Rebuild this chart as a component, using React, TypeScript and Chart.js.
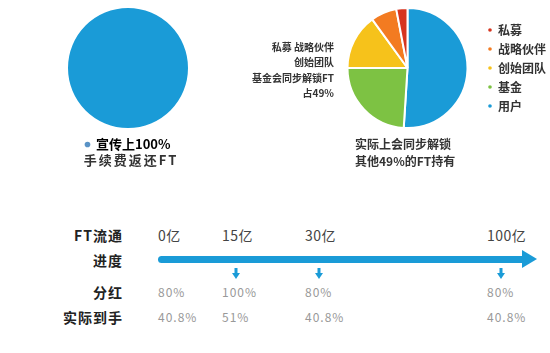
import React, { useEffect, useRef } from "react";
import { Chart, registerables } from "chart.js";
Chart.register(...registerables);

// ---- data ----
const leftLabels = ["宣传上100%"];
const leftValues = [100];
const leftCaption = "手续费返还FT";

const rightLabels = ["用户", "基金", "创始团队", "战略伙伴", "私募"];
const rightValues = [51, 24, 15, 7, 3];
const rightNote = ["私募 战略伙伴", "创始团队", "基金会同步解锁FT", "占49%"];
const rightCaption = ["实际上会同步解锁", "其他49%的FT持有"];

const rowLabels = ["FT流通", "进度", "分红", "实际到手"];
const milestones = ["0亿", "15亿", "30亿", "100亿"];
const dividends = ["80%", "100%", "80%", "80%"];
const received = ["40.8%", "51%", "40.8%", "40.8%"];
const showMarker = [false, true, true, true];

// ---- styles ----
const FONT = "'Noto Sans CJK SC', 'Noto Sans', sans-serif";
const BLUE = "#1a9bd7";
const rightColors = ["#1a9bd7", "#7dc243", "#f6c21b", "#f37b21", "#d6351f"];
const colLefts = [158, 222, 305, 487];

function PieCanvas(props: { config: any; left: number; top: number; width: number; height: number }) {
  const ref = useRef<HTMLCanvasElement | null>(null);
  useEffect(() => {
    const chart = new Chart(ref.current as HTMLCanvasElement, props.config);
    return () => chart.destroy();
  }, []);
  return (
    <canvas
      ref={ref}
      width={props.width}
      height={props.height}
      style={{ position: "absolute", left: props.left, top: props.top, width: props.width, height: props.height, display: "block" }}
    />
  );
}

const leftConfig = {
  type: "pie",
  data: {
    labels: leftLabels,
    datasets: [{ data: leftValues, backgroundColor: [BLUE], borderWidth: 0 }],
  },
  options: {
    responsive: false,
    animation: false,
    events: [],
    layout: { padding: 0 },
    plugins: {
      tooltip: { enabled: false },
      legend: {
        position: "bottom",
        labels: {
          usePointStyle: true,
          boxWidth: 4,
          boxHeight: 4,
          padding: 10,
          color: "#333",
          font: { family: FONT, size: 13, weight: "bold" },
          generateLabels: (chart: any) =>
            chart.data.labels.map((t: string, i: number) => ({
              text: t,
              fillStyle: "#5a93c6",
              strokeStyle: "#5a93c6",
              lineWidth: 0,
              pointStyle: "circle",
              hidden: false,
              index: i,
            })),
        },
      },
    },
  },
};

const rightConfig = {
  type: "pie",
  data: {
    labels: rightLabels,
    datasets: [{ data: rightValues, backgroundColor: rightColors, borderColor: "#ffffff", borderWidth: 2 }],
  },
  options: {
    responsive: false,
    animation: false,
    events: [],
    layout: { padding: 0 },
    plugins: {
      tooltip: { enabled: false },
      legend: {
        position: "right",
        reverse: true,
        labels: {
          usePointStyle: true,
          boxWidth: 4,
          boxHeight: 4,
          padding: 7,
          color: "#333",
          font: { family: FONT, size: 12, weight: "bold" },
        },
      },
    },
  },
};

function DownArrow(props: { x: number; y: number }) {
  return (
    <svg width={8} height={11} style={{ position: "absolute", left: props.x - 4, top: props.y }}>
      <rect x={2.5} y={0} width={3} height={6} fill={BLUE} />
      <polygon points="0,5 8,5 4,11" fill={BLUE} />
    </svg>
  );
}

export default function App() {
  const centerRow = (y: number, h: number) => ({ top: y - h / 2, height: h, lineHeight: h + "px" });
  const rowY = [235, 260, 292, 317];
  return (
    <div
      style={{
        position: "absolute",
        left: 0,
        top: 0,
        width: 550,
        height: 353,
        overflow: "hidden",
        background: "#fff",
        fontFamily: FONT,
      }}
    >
      <PieCanvas config={leftConfig} left={0} top={8} width={256} height={153} />
      <div
        style={{
          position: "absolute",
          left: 0,
          width: 262,
          textAlign: "center",
          ...centerRow(160, 18),
          fontSize: 13,
          fontWeight: "bold",
          letterSpacing: 2,
          color: "#333",
        }}
      >
        {leftCaption}
      </div>

      <PieCanvas config={rightConfig} left={334} top={7} width={222} height={122} />
      {rightNote.map((t, i) => (
        <div
          key={i}
          style={{
            position: "absolute",
            left: 200,
            width: 134,
            textAlign: "right",
            ...centerRow(47 + i * 15.3, 14),
            fontSize: 10,
            fontWeight: "bold",
            color: "#333",
            whiteSpace: "nowrap",
          }}
        >
          {t}
        </div>
      ))}
      {rightCaption.map((t, i) => (
        <div
          key={i}
          style={{
            position: "absolute",
            left: 355,
            ...centerRow(143 + i * 17, 17),
            fontSize: 12,
            fontWeight: "bold",
            letterSpacing: 0,
            color: "#333",
            whiteSpace: "nowrap",
          }}
        >
          {t}
        </div>
      ))}

      {rowLabels.map((t, i) => (
        <div
          key={i}
          style={{
            position: "absolute",
            left: 0,
            width: 123,
            textAlign: "right",
            ...centerRow(rowY[i], 18),
            fontSize: 14,
            fontWeight: "bold",
            letterSpacing: 1,
            color: "#222",
            whiteSpace: "nowrap",
          }}
        >
          {t}
        </div>
      ))}

      {milestones.map((t, i) => (
        <div
          key={"m" + i}
          style={{
            position: "absolute",
            left: colLefts[i],
            ...centerRow(rowY[0], 18),
            fontSize: 14,
            letterSpacing: 0.5,
            color: "#444",
            whiteSpace: "nowrap",
          }}
        >
          {t}
        </div>
      ))}
      {dividends.map((t, i) => (
        <div
          key={"d" + i}
          style={{
            position: "absolute",
            left: colLefts[i],
            ...centerRow(rowY[2], 16),
            fontSize: 12,
            letterSpacing: 1,
            color: "#999",
            whiteSpace: "nowrap",
          }}
        >
          {t}
        </div>
      ))}
      {received.map((t, i) => (
        <div
          key={"r" + i}
          style={{
            position: "absolute",
            left: colLefts[i],
            ...centerRow(rowY[3], 16),
            fontSize: 12,
            letterSpacing: 1,
            color: "#999",
            whiteSpace: "nowrap",
          }}
        >
          {t}
        </div>
      ))}

      <div
        style={{
          position: "absolute",
          left: 158,
          top: 259 - 3.5,
          width: 366,
          height: 7,
          background: BLUE,
          borderRadius: "3.5px 0 0 3.5px",
        }}
      />
      <div
        style={{
          position: "absolute",
          left: 522,
          top: 259 - 9,
          width: 0,
          height: 0,
          borderTop: "9px solid transparent",
          borderBottom: "9px solid transparent",
          borderLeft: "15px solid " + BLUE,
        }}
      />
      {showMarker.map((s, i) => (s ? <DownArrow key={"a" + i} x={colLefts[i] + 14} y={268} /> : null))}
    </div>
  );
}
